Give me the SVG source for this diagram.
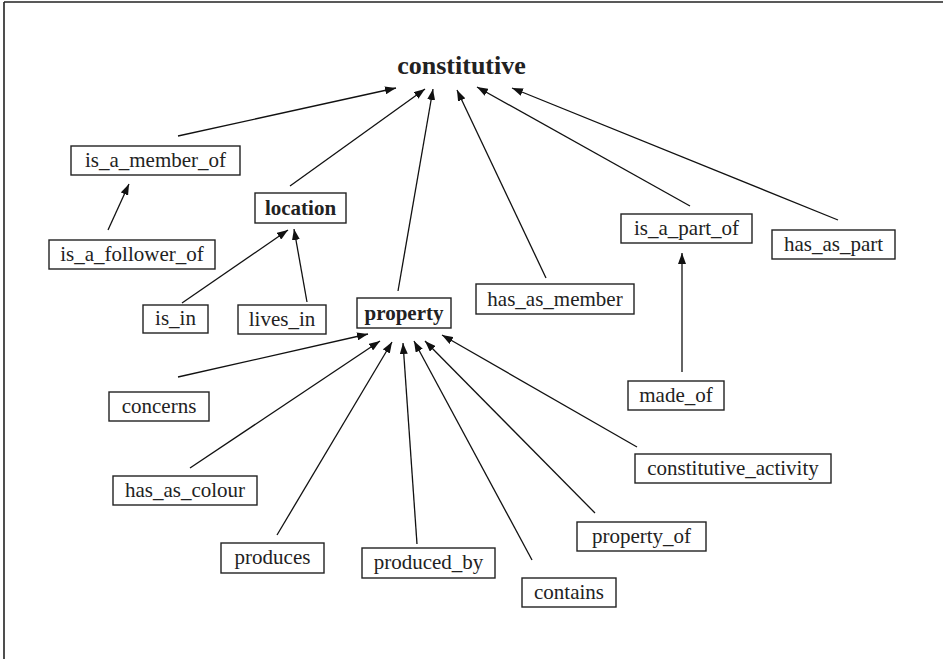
<svg xmlns="http://www.w3.org/2000/svg" width="943" height="659" viewBox="0 0 943 659">
<style>
.box{fill:#fff;stroke:#222;stroke-width:1.4}
.t{font-family:"Liberation Serif","Times New Roman",serif;font-size:21px;fill:#222;text-anchor:middle}
.b{font-weight:bold}
.c line{stroke:#111;stroke-width:1.3;marker-end:url(#ah)}
</style>
<defs>
<marker id="ah" viewBox="0 0 11 8" refX="11" refY="4" markerWidth="11" markerHeight="8" markerUnits="userSpaceOnUse" orient="auto">
<path d="M0,0 L11,4 L0,8 Z" fill="#111"/>
</marker>
</defs>
<rect width="943" height="659" fill="#fff"/>
<line x1="4" y1="2" x2="4" y2="659" stroke="#222" stroke-width="1.6"/>
<line x1="4" y1="2" x2="943" y2="2" stroke="#222" stroke-width="1.6"/>
<g id="constitutive"><text class="t b" x="461.5" y="74" style="font-size:26px">constitutive</text></g>
<g class="c" id="connectors">
<line x1="178" y1="136" x2="396" y2="88"/>
<line x1="290" y1="186" x2="425" y2="89"/>
<line x1="398" y1="291" x2="433" y2="89"/>
<line x1="546" y1="278" x2="457" y2="90"/>
<line x1="690" y1="206" x2="477" y2="87"/>
<line x1="838" y1="220" x2="512" y2="88"/>
<line x1="108" y1="230" x2="129" y2="184"/>
<line x1="182" y1="303" x2="288" y2="230"/>
<line x1="307" y1="302" x2="294" y2="229"/>
<line x1="682" y1="372" x2="682" y2="253"/>
<line x1="178" y1="377" x2="368" y2="334"/>
<line x1="190" y1="468" x2="380" y2="341"/>
<line x1="277" y1="535" x2="392" y2="342"/>
<line x1="417" y1="544" x2="403" y2="343"/>
<line x1="532" y1="560" x2="414" y2="341"/>
<line x1="595" y1="513" x2="425" y2="341"/>
<line x1="637" y1="447" x2="442" y2="335"/>
</g>
<g id="is_a_member_of"><rect class="box" x="71" y="146" width="169" height="29"/><text class="t" x="155.5" y="167">is_a_member_of</text></g>
<g id="is_a_follower_of"><rect class="box" x="49" y="240" width="166" height="29"/><text class="t" x="132" y="261">is_a_follower_of</text></g>
<g id="location"><rect class="box" x="255" y="193" width="91" height="30"/><text class="t b" x="300.5" y="215">location</text></g>
<g id="is_in"><rect class="box" x="143" y="305" width="65" height="28"/><text class="t" x="175.5" y="325">is_in</text></g>
<g id="lives_in"><rect class="box" x="238" y="305" width="88" height="29"/><text class="t" x="282" y="326">lives_in</text></g>
<g id="property"><rect class="box" x="357" y="298" width="94" height="30"/><text class="t b" x="404" y="320">property</text></g>
<g id="has_as_member"><rect class="box" x="476" y="284" width="158" height="30"/><text class="t" x="555" y="306">has_as_member</text></g>
<g id="is_a_part_of"><rect class="box" x="621" y="214" width="131" height="29"/><text class="t" x="686.5" y="235">is_a_part_of</text></g>
<g id="has_as_part"><rect class="box" x="772" y="230" width="123" height="29"/><text class="t" x="833.5" y="251">has_as_part</text></g>
<g id="made_of"><rect class="box" x="628" y="381" width="96" height="29"/><text class="t" x="676" y="402">made_of</text></g>
<g id="concerns"><rect class="box" x="109" y="392" width="100" height="29"/><text class="t" x="159" y="413">concerns</text></g>
<g id="has_as_colour"><rect class="box" x="113" y="476" width="144" height="29"/><text class="t" x="185" y="497">has_as_colour</text></g>
<g id="constitutive_activity"><rect class="box" x="635" y="454" width="196" height="29"/><text class="t" x="733" y="475">constitutive_activity</text></g>
<g id="produces"><rect class="box" x="221" y="543" width="103" height="30"/><text class="t" x="272.5" y="564">produces</text></g>
<g id="produced_by"><rect class="box" x="362" y="548" width="133" height="30"/><text class="t" x="428.5" y="569">produced_by</text></g>
<g id="property_of"><rect class="box" x="577" y="522" width="129" height="29"/><text class="t" x="641.5" y="543">property_of</text></g>
<g id="contains"><rect class="box" x="522" y="578" width="94" height="29"/><text class="t" x="569" y="599">contains</text></g>
</svg>
